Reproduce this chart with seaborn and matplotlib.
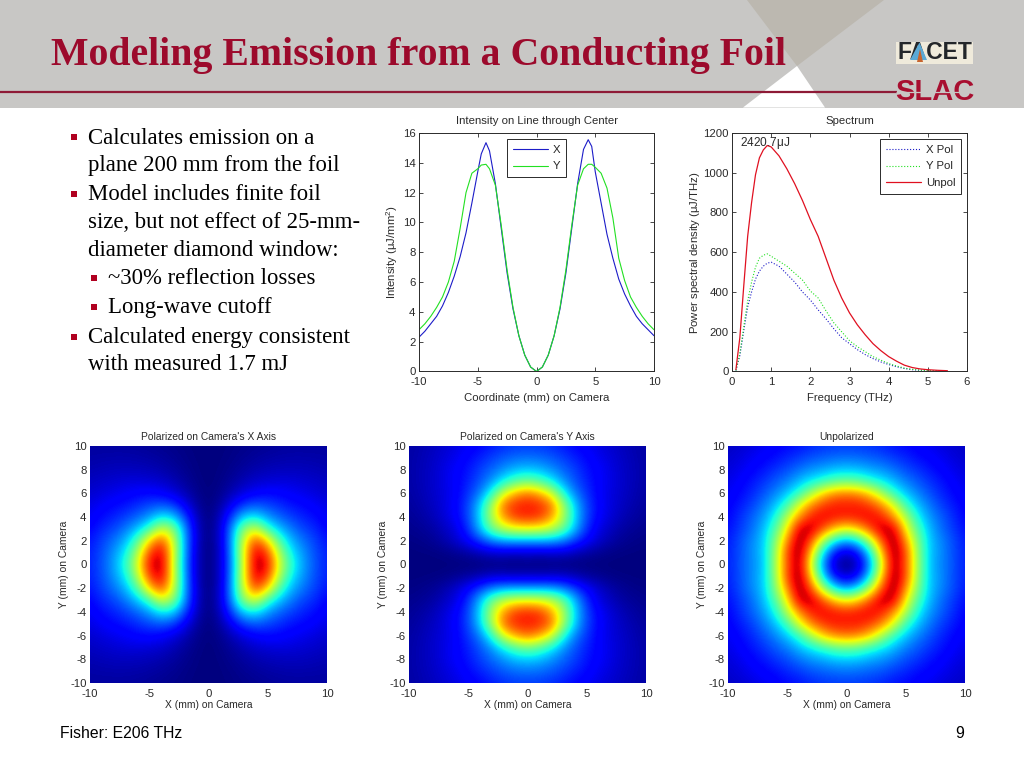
import numpy as np
import pandas as pd
import matplotlib
matplotlib.use("Agg")
import matplotlib.pyplot as plt
from matplotlib.patches import Polygon, Rectangle
import seaborn as sns

# ---------- data ----------
line_x = [-10,-9.5,-9,-8.5,-8,-7.5,-7,-6.5,-6,-5.5,-5,-4.7,-4.3,-4,-3.5,-3,-2.5,-2,-1.5,-1,-.5,0,
          .5,1,1.5,2,2.5,3,3.5,4,4.4,4.7,5,5.5,6,6.5,7,7.5,8,8.5,9,9.5,10]
line_X = [2.3,2.7,3.2,3.7,4.4,5.3,6.4,7.7,9.3,11.3,13.4,14.6,15.35,14.8,12.6,9.6,6.6,4.2,2.4,1.1,.3,0,
          .3,1.1,2.4,4.2,6.6,9.6,12.6,14.9,15.55,15.1,13.4,11.3,9.2,7.6,6.2,5.2,4.4,3.7,3.2,2.8,2.4]
line_Y = [2.8,3.2,3.7,4.3,5.0,6.0,7.4,9.6,12.0,13.3,13.6,13.85,13.9,13.6,12.5,9.8,6.8,4.3,2.4,1.1,.3,0,
          .3,1.1,2.4,4.3,6.8,9.8,12.5,13.6,13.9,13.9,13.7,13.3,12.3,10.3,7.6,6.1,5.0,4.3,3.7,3.2,2.8]

freq = [.1,.2,.3,.4,.5,.6,.7,.8,.9,1,1.2,1.4,1.6,1.8,2,2.2,2.4,2.6,2.8,3,3.2,3.4,3.6,3.8,4,4.2,4.4,4.6,4.8,5,5.25,5.5]
spec_unpol = [10,170,430,680,850,990,1075,1115,1137,1130,1085,1020,945,860,765,680,570,460,370,295,235,185,140,105,75,52,32,20,13,9,6,4]
spec_x = [5,80,205,325,400,465,505,530,545,550,530,490,450,400,360,310,265,215,170,140,110,85,65,48,35,24,15,9,6,4,3,2]
spec_y = [5,90,225,355,450,525,570,585,592,580,555,530,495,460,405,370,305,245,200,155,125,100,75,57,40,28,17,11,7,5,3,2]

# one quadrant of each map: rows Y = 0..10 mm, columns X = 0..10 mm (intensity)
map_x = [[0,1.0,4.1,9.8,15.0,14.0,9.4,6.2,4.4,3.2,2.4],
         [0,.95,4.3,10.0,14.6,13.0,8.6,5.6,4.2,3.1,2.4],
         [0,1.1,4.4,9.6,13.0,10.6,6.9,4.7,3.7,2.9,2.2],
         [0,1.1,4.2,8.2,9.4,6.6,4.9,3.8,3.0,2.5,1.9],
         [0,.9,3.0,5.2,5.6,4.3,3.5,2.9,2.4,2.1,1.6],
         [0,.5,1.7,2.9,3.3,3.0,2.6,2.2,2.0,1.7,1.4],
         [0,.25,.8,1.4,1.8,2.0,1.9,1.7,1.5,1.3,1.1],
         [0,.12,.42,.78,1.06,1.2,1.27,1.25,1.13,1.03,.9],
         [0,.07,.24,.46,.66,.78,.86,.87,.85,.78,.7],
         [0,.04,.14,.28,.41,.52,.58,.62,.62,.6,.55],
         [0,.02,.09,.17,.26,.34,.41,.45,.45,.45,.45]]
map_y = [[0,0,0,0,0,0,0,0,0,0,0],
         [1.1,1.0,1.1,1.1,.8,.5,.3,.14,.07,.04,.03],
         [4.3,4.4,4.3,3.8,2.8,1.8,1.1,.6,.3,.16,.1],
         [9.8,9.6,9.0,7.4,4.8,2.6,1.4,.9,.5,.32,.21],
         [13.5,13.2,11.6,8.8,5.3,3.0,1.8,1.2,.76,.48,.31],
         [13.7,13.5,12.4,8.6,5.1,3.0,1.9,1.3,.9,.61,.42],
         [12.3,11.4,9.6,6.2,3.9,2.7,1.8,1.3,1.0,.7,.49],
         [7.6,7.0,5.8,4.3,3.2,2.4,1.8,1.4,1.04,.75,.54],
         [5,4.8,4.2,3.5,2.9,2.2,1.8,1.36,1.0,.75,.55],
         [3.7,3.6,3.3,2.9,2.4,2.0,1.56,1.25,.95,.72,.54],
         [2.8,2.8,2.6,2.3,1.94,1.68,1.36,1.1,.85,.66,.5]]
map_u = [[0,1.0,4.1,9.7,15.2,12.8,8.4,4.9,4.0,3.2,2.4],
         [1.1,2,5.4,10.9,15.3,13,8.2,5.0,4.1,3.1,2.4],
         [4.2,5.5,8.7,12.9,15.3,11.8,7.8,5.0,4.0,3.1,2.3],
         [9.8,10.8,12.8,14.8,14.5,10.2,6.9,4.8,3.6,2.8,2.1],
         [13.6,13.8,14.2,13.6,11.7,8.8,5.9,4.3,3.4,2.6,1.9],
         [13.7,13.7,13.1,11.9,9.6,6.6,4.9,3.8,2.9,2.3,1.8],
         [12.2,11.85,10.7,8.6,6.4,5.0,4,3.2,2.5,2,1.6],
         [7.5,7.2,6.4,5.6,4.8,3.9,3.3,2.7,2.2,1.8,1.4],
         [5,4.9,4.5,4.2,3.7,3.1,2.7,2.2,1.9,1.5,1.25],
         [3.7,3.6,3.4,3.2,2.8,2.5,2.1,1.9,1.6,1.3,1.1],
         [2.8,2.8,2.7,2.5,2.2,2,1.8,1.55,1.3,1.1,.95]]

title_text = "Modeling Emission from a Conducting Foil"
bullets = [(0, "Calculates emission on a", 138, True),
           (0, "plane 200 mm from the foil", 165, False),
           (0, "Model includes finite foil", 195, True),
           (0, "size, but not effect of 25-mm-", 222, False),
           (0, "diameter diamond window:", 250, False),
           (1, "~30% reflection losses", 279, True),
           (1, "Long-wave cutoff", 308, True),
           (0, "Calculated energy consistent", 338, True),
           (0, "with measured 1.7 mJ", 365, False)]
map_titles = ["Polarized on Camera's X Axis", "Polarized on Camera's Y Axis", "Unpolarized"]

# ---------- style ----------
sns.set_theme(style="ticks")
plt.rcParams["font.family"] = ["Liberation Sans", "DejaVu Sans"]
plt.rcParams["axes.unicode_minus"] = False
plt.rcParams["mathtext.fontset"] = "custom"
plt.rcParams["mathtext.rm"] = "Liberation Sans"
plt.rcParams["mathtext.it"] = "Liberation Sans"
FS = 8.2
TXT = "#2a2a2a"
W, H = 1024, 768
fig = plt.figure(figsize=(W / 100, H / 100), dpi=100, facecolor="white")

def axpx(l, t, r, b):
    return fig.add_axes([l / W, 1 - b / H, (r - l) / W, (b - t) / H])

# ---------- slide decoration ----------
bg = fig.add_axes([0, 0, 1, 1], zorder=0)
bg.set_xlim(0, W); bg.set_ylim(H, 0); bg.axis("off")
bg.add_patch(Rectangle((0, 0), W, 107.5, fc="#c8c7c5", ec="none"))
bg.add_patch(Polygon([(747, 0), (884, 0), (797, 66)], fc="#bcb8b0", ec="none"))
bg.add_patch(Polygon([(797, 66), (743, 107.5), (825, 107.5)], fc="white", ec="none"))
bg.plot([0, 897], [92, 92], color="#8e1a36", lw=1.6, solid_capstyle="butt")
bg.text(51, 55, title_text, family="Liberation Serif", weight="bold", fontsize=28.65,
        color="#9c0a2c", va="center", ha="left")
bg.add_patch(Rectangle((896, 42), 77, 21.5, fc="#efeadb", ec="none"))
bg.text(934.5, 52.5, "FACET", weight="bold", fontsize=16.5, color="#23262a", ha="center", va="center")
bg.add_patch(Polygon([(910, 60), (919.5, 42.5), (927, 60)], fc="#5aa9d6", ec="none", zorder=4))
bg.add_patch(Polygon([(917, 62), (920, 49), (923, 62)], fc="#c8642e", ec="none", zorder=5))
bg.text(934.5, 91.5, "SLAC", weight="bold", fontsize=21, color="#a80f30", ha="center", va="center")
bg.plot([896, 973], [92, 92], color="#c8c7c5", lw=0.9, solid_capstyle="butt", zorder=4)

for lvl, txt, y, has_bullet in bullets:
    tx = 88 if lvl == 0 else 108
    bx = 74 if lvl == 0 else 93.5
    bg.text(tx, y, txt, family="Liberation Serif", fontsize=16.4, color="black", va="center", ha="left")
    if has_bullet:
        bg.add_patch(Rectangle((bx - 3, y - 4.5), 6, 6, fc="#b00020", ec="none"))
bg.text(60, 733, "Fisher: E206 THz", fontsize=11.3, color="black", va="center")
bg.text(960, 733, "9", fontsize=11.3, color="black", va="center", ha="center")

def matlab_axes(ax):
    ax.tick_params(direction="in", top=True, right=True, length=2.6, width=0.6,
                   labelsize=8.2, colors=TXT)
    ax.tick_params(axis="x", pad=4)
    ax.tick_params(axis="y", pad=2.5)
    for s in ax.spines.values():
        s.set_visible(True); s.set_linewidth(0.7); s.set_color(TXT)
    ax.set_facecolor("white")

LEG = dict(fontsize=FS, frameon=True, fancybox=False, edgecolor=TXT, framealpha=1, borderpad=0.5,
           handlelength=3.1, handletextpad=0.4, labelspacing=0.6, borderaxespad=0)

# ---------- line plots ----------
ax1 = axpx(419, 133, 654, 371.5)
sns.lineplot(x=line_x, y=line_X, ax=ax1, color="#1c1cc8", lw=0.8, label="X", errorbar=None, sort=False)
sns.lineplot(x=line_x, y=line_Y, ax=ax1, color="#22e022", lw=0.8, label="Y", errorbar=None, sort=False)
ax1.set_xlim(-10, 10); ax1.set_ylim(0, 16)
ax1.set_xticks([-10, -5, 0, 5, 10]); ax1.set_yticks(range(0, 17, 2))
ax1.set_title("Intensity on Line through Center", fontsize=FS, pad=6.5, color=TXT)
ax1.set_xlabel("Coordinate (mm) on Camera", fontsize=FS, labelpad=4.5, color=TXT)
ax1.set_ylabel("Intensity ($\\mathrm{\\mu}$J/mm$^2$)", fontsize=FS, labelpad=2, color=TXT)
matlab_axes(ax1)
leg = ax1.legend(loc="upper left", bbox_to_anchor=(0.375, 0.975), **LEG)
leg.get_frame().set_linewidth(0.7)

ax2 = axpx(732, 133, 967, 371.5)
sns.lineplot(x=freq, y=spec_x, ax=ax2, color="#1c1cc8", lw=0.8, linestyle=":", label="X Pol", errorbar=None)
sns.lineplot(x=freq, y=spec_y, ax=ax2, color="#22e022", lw=0.8, linestyle=":", label="Y Pol", errorbar=None)
sns.lineplot(x=freq, y=spec_unpol, ax=ax2, color="#e01020", lw=0.9, label="Unpol", errorbar=None)
ax2.set_xlim(0, 6); ax2.set_ylim(0, 1200)
ax2.set_xticks(range(7)); ax2.set_yticks(range(0, 1201, 200))
ax2.set_title("Spectrum", fontsize=FS, pad=6.5, color=TXT)
ax2.set_xlabel("Frequency (THz)", fontsize=FS, labelpad=4.5, color=TXT)
ax2.set_ylabel("Power spectral density ($\\mathrm{\\mu}$J/THz)", fontsize=FS, labelpad=1, color=TXT)
ax2.text(0.2, 1150, "2420.7$\\mathrm{\\mu}$J", fontsize=FS + 0.4, color=TXT, va="center", ha="left")
matlab_axes(ax2)
leg = ax2.legend(loc="upper right", bbox_to_anchor=(0.975, 0.975), **LEG)
leg.get_frame().set_linewidth(0.7)

# ---------- intensity maps ----------
def full_map(q):
    q = np.asarray(q, float)
    right = np.vstack([q[:0:-1], q])
    return np.hstack([right[:, :0:-1], right])

map_boxes = [(90, 446, 327, 683), (409, 446, 646, 683), (728, 446, 965, 683)]
for box, quad, ttl in zip(map_boxes, [map_x, map_y, map_u], map_titles):
    ax = axpx(*box)
    z = full_map(quad)
    ax.imshow(z, cmap="jet", origin="lower", extent=[-10.5, 10.5, -10.5, 10.5], vmin=0, vmax=15.5,
              interpolation="bicubic", interpolation_stage="data", aspect="auto")
    ax.set_xlim(-10, 10); ax.set_ylim(-10, 10)
    ax.set_xticks([-10, -5, 0, 5, 10]); ax.set_yticks(range(-10, 11, 2))
    ax.set_title(ttl, fontsize=7.4, pad=4.5, color=TXT)
    ax.set_xlabel("X (mm) on Camera", fontsize=7.4, labelpad=1, color=TXT)
    ax.set_ylabel("Y (mm) on Camera", fontsize=7.4, labelpad=0.5, color=TXT)
    matlab_axes(ax)
    ax.tick_params(length=0)
    for s in ax.spines.values():
        s.set_visible(False)

fig.savefig("out.png", dpi=100, facecolor="white")
